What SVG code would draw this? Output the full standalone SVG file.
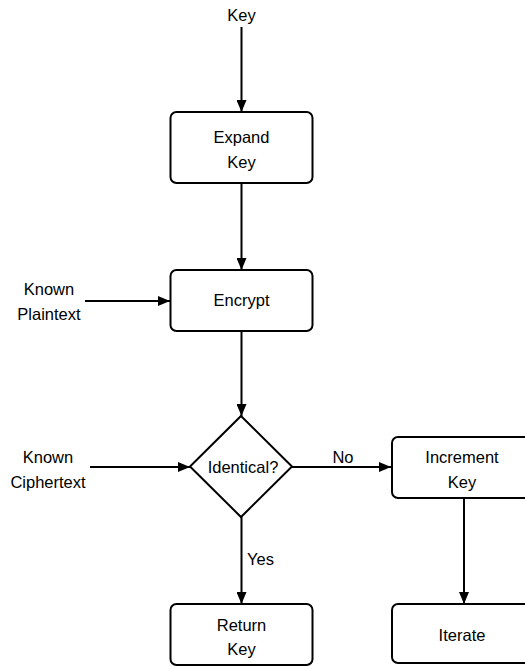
<svg xmlns="http://www.w3.org/2000/svg" width="525" height="666" viewBox="0 0 525 666">
<style>
.box{fill:#fff;stroke:#000;stroke-width:2}
.ln{fill:none;stroke:#000;stroke-width:2}
text{font-family:"Liberation Sans",Arial,sans-serif;font-size:16.5px;fill:#000;text-anchor:middle}
</style>
<defs>
<marker id="ah" markerUnits="userSpaceOnUse" markerWidth="12" markerHeight="10" refX="12" refY="5" orient="auto">
<path d="M0,0 L12,5 L0,10 Z" fill="#000"/>
</marker>
</defs>
<rect width="525" height="666" fill="#fff"/>
<g id="connectors">
<line class="ln" x1="241.5" y1="27" x2="241.5" y2="112" marker-end="url(#ah)"/>
<line class="ln" x1="241.5" y1="183" x2="241.5" y2="270" marker-end="url(#ah)"/>
<line class="ln" x1="241.5" y1="331" x2="241.5" y2="416" marker-end="url(#ah)"/>
<line class="ln" x1="85" y1="301" x2="170" y2="301" marker-end="url(#ah)"/>
<line class="ln" x1="90" y1="467" x2="190" y2="467" marker-end="url(#ah)"/>
<line class="ln" x1="292" y1="467" x2="391" y2="467" marker-end="url(#ah)"/>
<line class="ln" x1="241.5" y1="517" x2="241.5" y2="604" marker-end="url(#ah)"/>
<line class="ln" x1="464" y1="498" x2="464" y2="604" marker-end="url(#ah)"/>
<text x="343" y="462.5">No</text>
<text x="247" y="565" style="text-anchor:start">Yes</text>
</g>
<g id="key"><text x="241.5" y="21">Key</text></g>
<g id="expand"><rect class="box" x="170.5" y="112" width="142" height="71" rx="6"/><text x="241.5" y="142.5">Expand</text><text x="241.5" y="167.5">Key</text></g>
<g id="plaintext"><text x="49" y="295">Known</text><text x="49" y="320">Plaintext</text></g>
<g id="encrypt"><rect class="box" x="170.5" y="270" width="142" height="61" rx="6"/><text x="241.5" y="306">Encrypt</text></g>
<g id="ciphertext"><text x="48" y="462.5">Known</text><text x="48" y="487.5">Ciphertext</text></g>
<g id="identical"><path class="box" d="M241,416 L292,466.5 L241,517 L190,466.5 Z"/><text x="243" y="473">Identical?</text></g>
<g id="increment"><rect class="box" x="392" y="437" width="142" height="61" rx="6"/><text x="462" y="462.5">Increment</text><text x="462" y="487.5">Key</text></g>
<g id="return"><rect class="box" x="170.5" y="604" width="142" height="61" rx="6"/><text x="241.5" y="631">Return</text><text x="241.5" y="655">Key</text></g>
<g id="iterate"><rect class="box" x="392" y="604" width="142" height="59" rx="6"/><text x="462" y="641">Iterate</text></g>
</svg>
